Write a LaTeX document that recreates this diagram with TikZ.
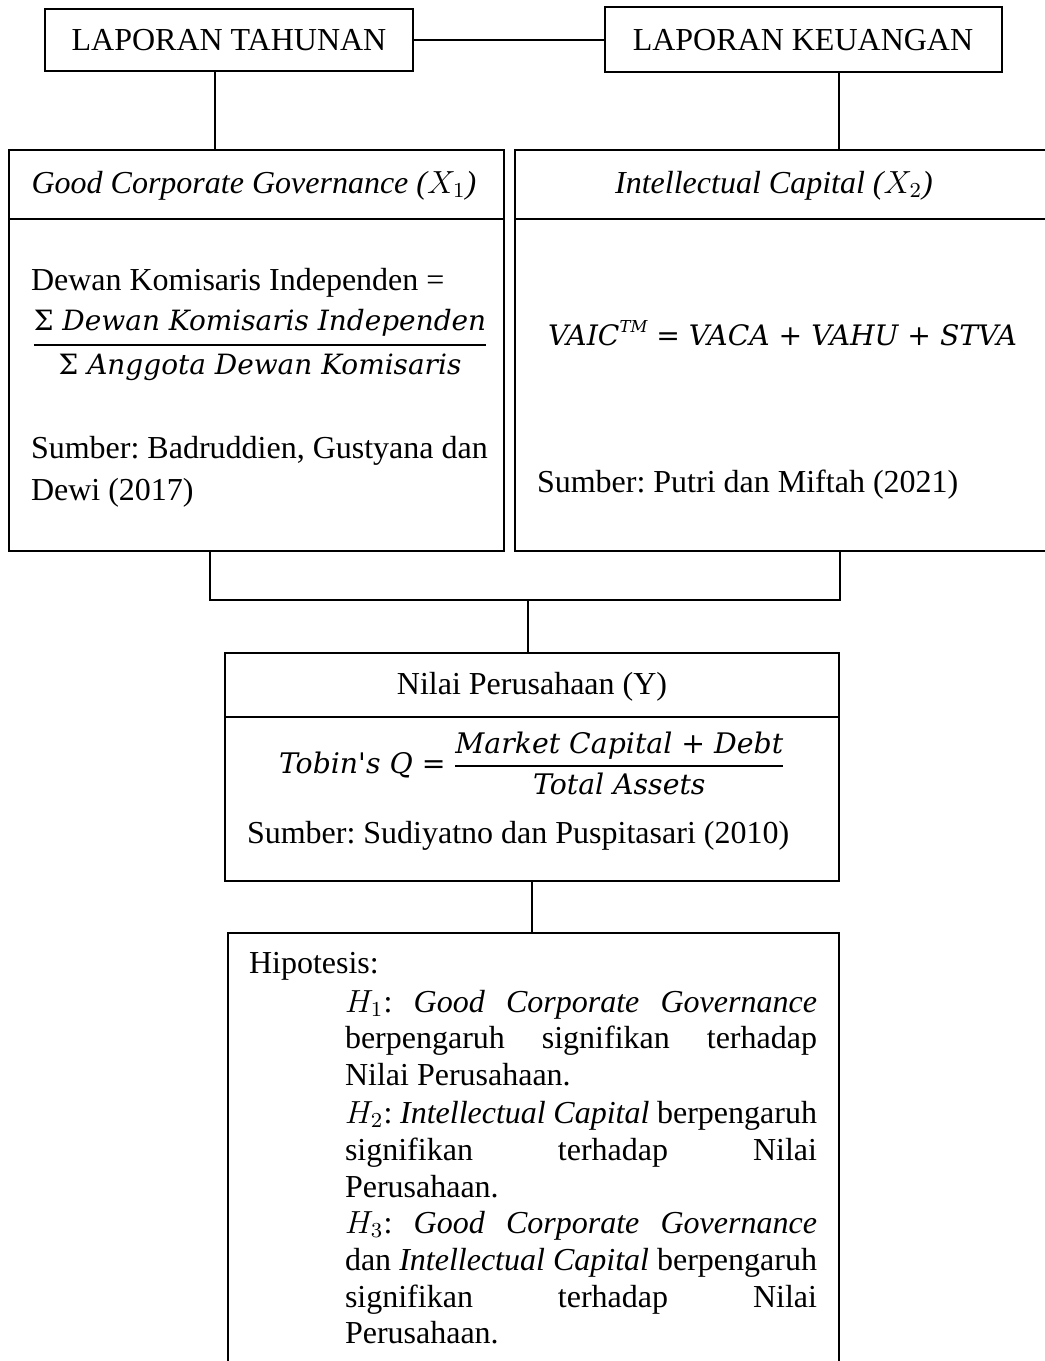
\documentclass[tikz,border=0pt]{standalone}
\usepackage{amsmath}
\usepackage{graphicx}
\usepackage{fontspec}
\setmainfont{Liberation Serif}
\newfontfamily\fmfont{DejaVu Serif}
\frenchspacing
\newlength\px
\setlength\px{0.375pt}
\newcommand{\fm}[1]{\hbox{\fmfont\itshape #1}}
\tikzset{
  every node/.style={font=\fontsize{12}{13.9}\selectfont, inner sep=0pt, outer sep=0pt},
  boxframe/.style={draw, line width=0.8pt, anchor=north west},
  conn/.style={line width=0.45pt},
  txt/.style={anchor=base west},
  ctxt/.style={anchor=base},
}
\begin{document}
\begin{tikzpicture}[x=0.375pt,y=-0.375pt]
\useasboundingbox (0,0) rectangle (1044,1361);
\fill[white] (0,0) rectangle (1044,1361);

% top boxes
\node[boxframe, minimum width=368\px, minimum height=62\px] (lt) at (45,9) {};
\node[ctxt] (ltt) at (229,50) {LAPORAN TAHUNAN};
\node[boxframe, minimum width=397\px, minimum height=65\px] (lk) at (605,7) {};
\node[ctxt] (lkt) at (803,50) {LAPORAN KEUANGAN};

% variable boxes
\node[boxframe, minimum width=495\px, minimum height=401\px] (gcg) at (9,150) {};
\draw[line width=0.8pt] ([yshift=-69\px]gcg.north west) -- ([yshift=-69\px]gcg.north east);
\node[ctxt] (gcgt) at (254,193) {\textit{Good Corporate Governance ($X_1$)}};
\node[txt] (g1) at (31,290) {Dewan Komisaris Independen =};
\node[txt] (g2) at (31,352) {\resizebox{458\px}{!}{$\displaystyle\genfrac{}{}{1.1pt}{0}{\fm{{\upshape Σ} Dewan Komisaris Independen}}{\fm{{\upshape Σ} Anggota Dewan Komisaris}}$}};
\node[txt] (g3) at (31,458) {Sumber: Badruddien, Gustyana dan};
\node[txt] (g4) at (31,500) {Dewi (2017)};

\node[boxframe, minimum width=545\px, minimum height=401\px] (ic) at (515,150) {};
\draw[line width=0.8pt] ([yshift=-69\px]ic.north west) -- ([yshift=-69\px]ic.north east);
\node[ctxt] (ict) at (774,193) {\textit{Intellectual Capital ($X_2$)}};
\node[txt] (i1) at (548,345) {\resizebox{469\px}{!}{\fm{VAIC\raisebox{0.45em}{\scriptsize TM} {\upshape =} VACA {\upshape +} VAHU {\upshape +} STVA}}};
\node[txt] (i2) at (537,492) {Sumber: Putri dan Miftah (2021)};

% dependent box
\node[boxframe, minimum width=614\px, minimum height=228\px] (nilai) at (225,653) {};
\draw[line width=0.8pt] ([yshift=-64\px]nilai.north west) -- ([yshift=-64\px]nilai.north east);
\node[ctxt] (nt) at (532,694) {Nilai Perusahaan (Y)};
\node[txt] (n1) at (279,773) {\resizebox{507\px}{!}{$\displaystyle \fm{Tobin's Q {\upshape =}}\ \genfrac{}{}{0.8pt}{0}{\fm{Market Capital {\upshape +} Debt}}{\fm{Total Assets}}$}};
\node[txt] (n2) at (247,843) {Sumber: Sudiyatno dan Puspitasari (2010)};

% hypothesis box (open at the bottom)
\node[anchor=north west, minimum width=611\px, minimum height=440\px] (hip) at (228,933) {};
\draw[line width=0.8pt] (hip.south west) -- (hip.north west) -- (hip.north east) -- (hip.south east);
\node[txt] (h0) at (249,973) {Hipotesis:};
\node[txt] (h1) at (345,1012) {\hbox to 472\px{$H_1$:\hfill\textit{Good}\hfill\textit{Corporate}\hfill\textit{Governance}}};
\node[txt] (h2) at (345,1048) {\hbox to 472\px{berpengaruh\hfill signifikan\hfill terhadap}};
\node[txt] (h3) at (345,1085) {Nilai Perusahaan.};
\node[txt] (h4) at (345,1123) {\hbox to 472\px{$H_2$: \textit{Intellectual Capital} berpengaruh}};
\node[txt] (h5) at (345,1160) {\hbox to 472\px{signifikan\hfill terhadap\hfill Nilai}};
\node[txt] (h6) at (345,1197) {Perusahaan.};
\node[txt] (h7) at (345,1233) {\hbox to 472\px{$H_3$:\hfill\textit{Good}\hfill\textit{Corporate}\hfill\textit{Governance}}};
\node[txt] (h8) at (345,1270) {\hbox to 472\px{dan \textit{Intellectual Capital} berpengaruh}};
\node[txt] (h9) at (345,1307) {\hbox to 472\px{signifikan\hfill terhadap\hfill Nilai}};
\node[txt] (h10) at (345,1343) {Perusahaan.};

% connectors
\coordinate (xa) at (215,0);
\coordinate (xb) at (839,0);
\coordinate (xc) at (210,0);
\coordinate (xd) at (840,0);
\coordinate (jn) at (528,600);
\draw[conn] (lt.east) -- (lk.west |- lt.east);
\draw[conn] (lt.south -| xa) -- (gcg.north -| xa);
\draw[conn] (lk.south -| xb) -- (ic.north -| xb);
\draw[conn] (gcg.south -| xc) -- (jn -| xc) -- (jn -| xd) -- (ic.south -| xd);
\draw[conn] (jn) -- (nilai.north -| jn);
\draw[conn] (nilai.south) -- (nilai.south |- hip.north);
\end{tikzpicture}
\end{document}
